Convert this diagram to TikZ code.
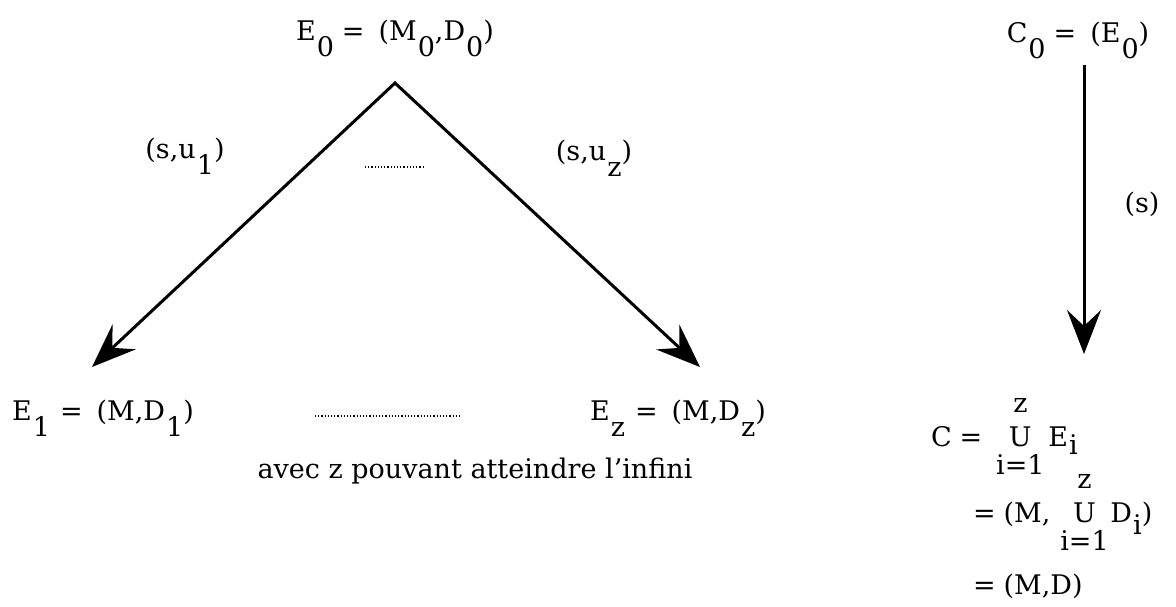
\documentclass[tikz,border=0pt]{standalone}
\usepackage{fontspec}
\setmainfont{DejaVu Serif}
\usetikzlibrary{arrows.meta, positioning}
\newcommand{\lo}[2][-8pt]{\hspace{0.5pt}\raisebox{#1}{#2}}
\newcommand{\Uz}{\makebox[24pt]{\rlap{\raisebox{17pt}{\makebox[24pt]{z}}}\rlap{\raisebox{-14pt}{\makebox[24pt]{i=1}}}\makebox[24pt]{U}}}

\begin{document}
\begin{tikzpicture}[x=0.5pt, y=-0.5pt, font=\fontsize{13.5}{16}\selectfont]
            \tikzset{head/.tip = {Stealth[length=22pt,width=17pt,inset=8pt]}}
            \tikzset{edge/.style = {-head, line width=1.5pt}}
            \tikzset{dots/.style = {densely dotted, line width=0.6pt}}
            \useasboundingbox (0,0) rectangle (1176,606);
            % vertices
            \node[anchor=base] (e0) at (395,40) {E\lo{0}\hspace{4pt}=\hspace{7pt}(M\lo{0},D\lo{0})};
            \node[anchor=base] (e1) at (103,420) {E\lo{1}\hspace{5pt}=\hspace{7pt}(M,D\lo{1})};
            \node[anchor=base] (ez) at (678,420) {E\lo{z}\hspace{5pt}=\hspace{7pt}(M,D\lo{z})};
            \node[anchor=base] (avec) at (475,478) {avec z pouvant atteindre l'infini};
            \node[anchor=base] (su1) at (185,158) {(s,u\lo{1})};
            \node[anchor=base] (suz) at (594,160) {(s,u\lo{z})};
            \node[anchor=base] (c0) at (1078,42) {C\lo{0}\hspace{4pt}=\hspace{7pt}(E\lo{0})};
            \node[anchor=base] (s) at (1142,212) {(s)};
            \node[anchor=base west] (c) at (924,446) {C\hspace{4pt}=\hspace{7pt}\Uz\hspace{2pt}E\lo[-4pt]{i}};
            \node[anchor=base west] (cu) at (966,522) {=\hspace{4pt}(M,\hspace{5pt}\Uz\hspace{1pt}D\lo[-6pt]{i})};
            \node[anchor=base west] (cd) at (966,594) {=\hspace{4pt}(M,D)};
            \coordinate (top) at (395,83);
            \coordinate (t1) at (92,367);
            \coordinate (tz) at (700,367);
            \coordinate (tc) at (1084,354);
            %edges
            \draw[{head}-{head}, line width=1.5pt, line join=miter] (t1) -- (top) -- (tz);
            \draw[edge] (c0.south -| tc) -- (tc);
            \draw[dots] (365,167) -- (425,167);
            \draw[dots] (315,416) -- (460,416);
\end{tikzpicture}
\end{document}
